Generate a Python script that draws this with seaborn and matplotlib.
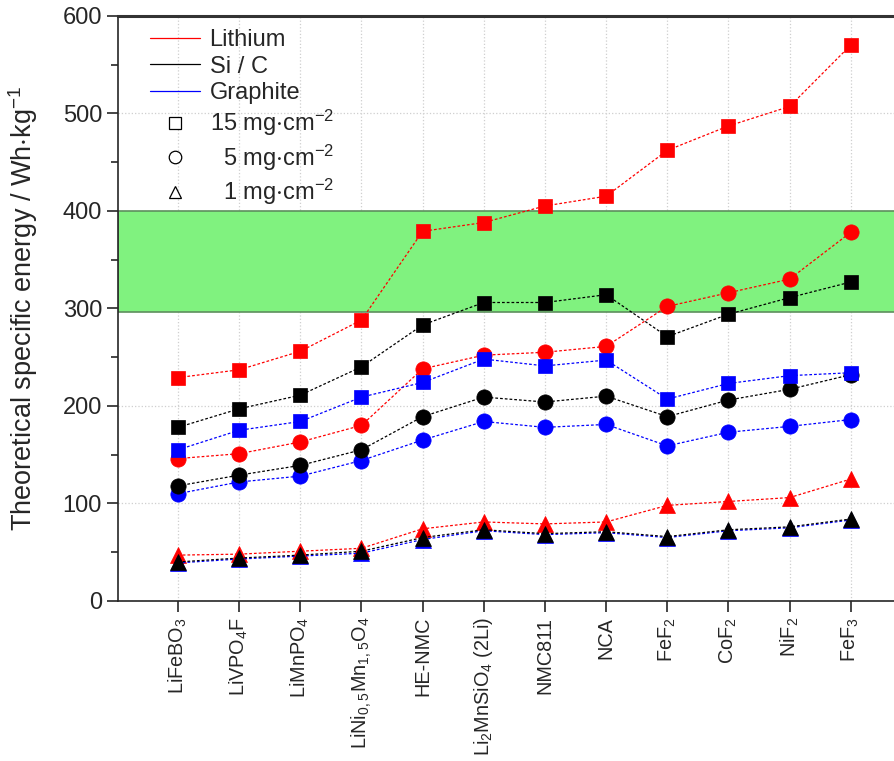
import matplotlib
matplotlib.use('Agg')
import matplotlib.pyplot as plt
import seaborn as sns
from matplotlib.lines import Line2D
from matplotlib.ticker import MultipleLocator

# cathode materials (x axis)
cathodes = ['LiFeBO$_3$', 'LiVPO$_4$F', 'LiMnPO$_4$', 'LiNi$_{0,5}$Mn$_{1,5}$O$_4$',
            'HE-NMC', 'Li$_2$MnSiO$_4$ (2Li)', 'NMC811', 'NCA',
            'FeF$_2$', 'CoF$_2$', 'NiF$_2$', 'FeF$_3$']

# theoretical specific energy, Wh/kg, per anode and loading
li_15 = [229, 237, 256, 288, 379, 388, 405, 415, 462, 487, 507, 570]
li_5 = [146, 151, 163, 180, 238, 252, 255, 261, 302, 316, 330, 378]
li_1 = [47, 48, 51, 54, 74, 81, 79, 81, 98, 102, 106, 125]
sic_15 = [178, 197, 211, 240, 283, 306, 306, 314, 271, 294, 311, 327]
sic_5 = [118, 129, 139, 155, 189, 209, 204, 210, 189, 206, 217, 232]
sic_1 = [40, 44, 47, 51, 65, 73, 69, 71, 66, 73, 76, 84]
gr_15 = [155, 175, 184, 209, 224, 248, 241, 247, 207, 223, 231, 234]
gr_5 = [110, 122, 128, 144, 165, 184, 178, 181, 159, 173, 179, 186]
gr_1 = [39, 43, 46, 49, 63, 72, 68, 70, 65, 72, 75, 83]

anodes = ['Lithium', 'Si / C', 'Graphite']
anode_colors = {'Lithium': '#ff0000', 'Si / C': '#000000', 'Graphite': '#0000ff'}
loadings = ['15', '5', '1']
loading_markers = {'15': 's', '5': 'o', '1': '^'}
series = {
    ('Lithium', '15'): li_15, ('Lithium', '5'): li_5, ('Lithium', '1'): li_1,
    ('Si / C', '15'): sic_15, ('Si / C', '5'): sic_5, ('Si / C', '1'): sic_1,
    ('Graphite', '15'): gr_15, ('Graphite', '5'): gr_5, ('Graphite', '1'): gr_1,
}
target_band = (296, 400)

sns.set_style('ticks')
plt.rcParams['font.family'] = ['Liberation Sans', 'DejaVu Sans']
plt.rcParams['mathtext.default'] = 'regular'

fig = plt.figure(figsize=(8.94, 7.61), dpi=100)
ax = fig.add_axes([0.132, 0.2103, 0.871, 0.769])

ax.axhspan(*target_band, facecolor='#80f27f', edgecolor='#5e8f5e', lw=1.2, zorder=1)

x = list(range(len(cathodes)))
draw_order = ['5', '15', '1']
for load in draw_order:
    for anode in ['Lithium', 'Graphite', 'Si / C']:
        c = anode_colors[anode]
        m = loading_markers[load]
        ms = 10 if m == 's' else 11
        sns.lineplot(x=x, y=series[(anode, load)], ax=ax, color=c, marker=m,
                     markersize=ms, mec=c, mew=0.5, lw=0.9,
                     linestyle=(0, (2.2, 1.6)), zorder=3)

ax.set_xlim(-0.98, 11.75)
ax.set_ylim(0, 600)
ax.yaxis.set_major_locator(MultipleLocator(100))
ax.yaxis.set_minor_locator(MultipleLocator(50))
ax.set_xticks(x)
ax.set_xticklabels(cathodes, rotation=90, fontsize=14.3)
ax.tick_params(axis='y', which='major', labelsize=17, direction='out', length=8,
               width=1.2, right=True)
ax.tick_params(axis='y', which='minor', direction='out', length=5, width=1.2, right=True)
ax.tick_params(axis='x', which='major', direction='out', length=8, width=1.2, top=False)
ax.grid(True, color='#cfcfcf', ls=':', lw=0.9)
ax.set_axisbelow(True)

for side in ['left', 'bottom']:
    ax.spines[side].set_linewidth(1.2)
ax.spines['top'].set_linewidth(2.2)
ax.spines['top'].set_color('#333333')
ax.spines['right'].set_linewidth(1.2)

ax.set_xlabel('')
ax.set_ylabel('Theoretical specific energy / Wh$\\cdot$kg$^{-1}$', fontsize=19.5, labelpad=16)

handles = [Line2D([], [], color=anode_colors[a], lw=0.9) for a in anodes]
handles += [Line2D([], [], ls='none', marker=loading_markers[l], markersize=9,
                   mfc='white', mec='black', mew=0.9) for l in loadings]
labels = anodes + ['15 mg$\\cdot$cm$^{-2}$', '  5 mg$\\cdot$cm$^{-2}$', '  1 mg$\\cdot$cm$^{-2}$']
ax.legend(handles, labels, loc='upper left', bbox_to_anchor=(0.029, 0.993), frameon=False,
          fontsize=17, handlelength=2.1, handletextpad=0.42, labelspacing=0.18,
          borderaxespad=0.0, borderpad=0.4)

fig.savefig('out.png', dpi=100)
